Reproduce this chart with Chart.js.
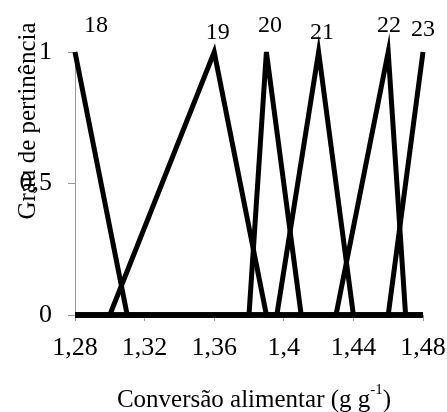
<!DOCTYPE html>
<html>
<head>
<meta charset="utf-8">
<script src="https://cdn.jsdelivr.net/npm/chart.js@4"></script>
<style>
  html, body { margin: 0; padding: 0; background: #fff; }
  #wrap { width: 447px; height: 412px; }
</style>
</head>
<body>
<div id="wrap"><canvas id="myChart" width="447" height="412"></canvas></div>
<script>
// membership functions (x = conversão alimentar, y = grau de pertinência)
const x18 = [1.28, 1.31, 1.48];
const y18 = [1, 0, 0];
const x19 = [1.28, 1.30, 1.36, 1.39, 1.48];
const y19 = [0, 0, 1, 0, 0];
const x20 = [1.28, 1.38, 1.39, 1.41, 1.48];
const y20 = [0, 0, 1, 0, 0];
const x21 = [1.28, 1.396, 1.42, 1.44, 1.48];
const y21 = [0, 0, 1, 0, 0];
const x22 = [1.28, 1.43, 1.46, 1.47, 1.48];
const y22 = [0, 0, 1, 0, 0];
const x23 = [1.28, 1.46, 1.48];
const y23 = [0, 0, 1];

const setNames = ["18", "19", "20", "21", "22", "23"];
const nameX = [1.292, 1.362, 1.392, 1.422, 1.4605, 1.48];
const nameY = [1.1, 1.072, 1.1, 1.072, 1.1, 1.085];

const xTicks = [1.28, 1.32, 1.36, 1.4, 1.44, 1.48];
const yTicks = [0, 0.5, 1];

const serif = "'Liberation Serif', 'Times New Roman', serif";

function toPoints(xs, ys) {
  return xs.map((x, i) => ({ x: x, y: ys[i] }));
}

function comma(v) {
  return String(Math.round(v * 100) / 100).replace(".", ",");
}

const series = [
  [x18, y18], [x19, y19], [x20, y20], [x21, y21], [x22, y22], [x23, y23],
];

const textPlugin = {
  id: "texts",
  afterDraw(chart) {
    const c = chart.ctx;
    const xs = chart.scales.x;
    const ys = chart.scales.y;
    const area = chart.chartArea;
    c.save();
    c.fillStyle = "#000";
    c.textAlign = "center";
    c.textBaseline = "middle";
    c.font = "24px " + serif;
    setNames.forEach((n, i) => {
      c.fillText(n, xs.getPixelForValue(nameX[i]), ys.getPixelForValue(nameY[i]));
    });

    // y axis title
    c.save();
    c.translate(area.left - 47, area.top + 69);
    c.rotate(-Math.PI / 2);
    c.font = "25px " + serif;
    c.fillText("Grau de pertinência", 0, 0);
    c.restore();

    // x axis title with superscript
    const main = "Conversão alimentar (g g";
    const sup = "-1";
    const tail = ")";
    c.font = "25px " + serif;
    const w1 = c.measureText(main).width;
    const w3 = c.measureText(tail).width;
    c.font = "15px " + serif;
    const w2 = c.measureText(sup).width;
    const total = w1 + w2 + w3;
    let x0 = (area.left + area.right) / 2 - total / 2 + 5;
    const yb = 400;
    c.textAlign = "left";
    c.font = "25px " + serif;
    c.fillText(main, x0, yb);
    c.font = "15px " + serif;
    c.fillText(sup, x0 + w1, yb - 10);
    c.font = "25px " + serif;
    c.fillText(tail, x0 + w1 + w2, yb);
    c.restore();
  },
};

const ctx = document.getElementById("myChart");

new Chart(ctx, {
  type: "line",
  data: {
    datasets: series.map((s, i) => ({
      label: setNames[i],
      data: toPoints(s[0], s[1]),
      borderColor: "#000",
      borderWidth: 5,
      pointRadius: 0,
      tension: 0,
      clip: false,
      fill: false,
    })),
  },
  options: {
    responsive: false,
    animation: false,
    layout: {
      padding: { top: 52, right: 24, left: 0, bottom: 0 },
    },
    plugins: {
      legend: { display: false },
      tooltip: { enabled: false },
    },
    scales: {
      x: {
        type: "linear",
        min: 1.28,
        max: 1.48,
        afterBuildTicks: (scale) => {
          scale.ticks = xTicks.map((v) => ({ value: v }));
        },
        afterFit: (scale) => {
          scale.height = 97;
          scale.paddingLeft = 0;
          scale.paddingRight = 0;
        },
        ticks: {
          color: "#000",
          font: { family: serif, size: 26 },
          padding: 12,
          maxRotation: 0,
          callback: (v) => comma(v),
        },
        grid: {
          display: true,
          drawOnChartArea: false,
          drawTicks: true,
          tickLength: 6,
          color: "#999",
        },
        border: { display: true, color: "#999" },
      },
      y: {
        min: 0,
        max: 1,
        afterBuildTicks: (scale) => {
          scale.ticks = yTicks.map((v) => ({ value: v }));
        },
        afterFit: (scale) => {
          scale.width = 75;
          scale.paddingTop = 0;
          scale.paddingBottom = 0;
        },
        ticks: {
          color: "#000",
          font: { family: serif, size: 26 },
          padding: 16,
          callback: (v) => comma(v),
        },
        grid: {
          display: true,
          drawOnChartArea: false,
          drawTicks: true,
          tickLength: 7,
          color: "#999",
        },
        border: { display: true, color: "#999" },
      },
    },
  },
  plugins: [textPlugin],
});
</script>
</body>
</html>
